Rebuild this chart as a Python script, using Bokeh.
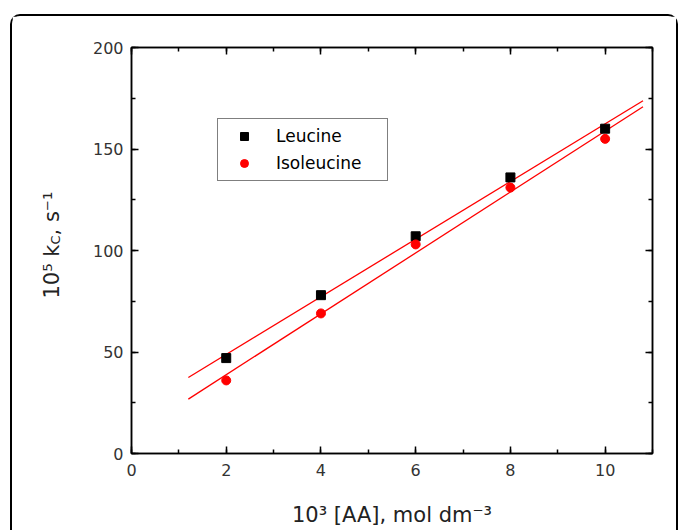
import numpy as np
from bokeh.plotting import figure
from bokeh.models import (LinearAxis, Label, Legend, LegendItem, Range1d,
                          SingleIntervalTicker, CustomJSTickFormatter)
from bokeh.embed import file_html
from bokeh.resources import INLINE

# ---- data ----
conc = [2, 4, 6, 8, 10]                 # 10^3 [AA], mol dm^-3
leucine = [47, 78, 107, 136, 160]       # 10^5 k_C, s^-1
isoleucine = [36, 69, 103, 131, 155]
series_names = ["Leucine", "Isoleucine"]
x_title = "10³ [AA], mol dm⁻³"
y_title_pieces = ["10⁵ k", "C", ", s⁻¹"]
x_tick_step = 2
y_tick_step = 50
x_limits = (0, 11)
y_limits = (0, 200)
fit_span = (1.2, 10.8)

FONT = "DejaVu Sans"
W, H = 668, 516
FL, FR, FT, FB = 119, 640, 31, 437          # frame edges inside the canvas
# reference page coordinates of the frame (for placing the text pieces)
RL, RR, RT, RB = 131, 652, 47, 453


def px2x(px):
    return x_limits[0] + (px - RL) / (RR - RL) * (x_limits[1] - x_limits[0])


def py2y(py):
    return y_limits[0] + (RB - py) / (RB - RT) * (y_limits[1] - y_limits[0])


p = figure(width=W, height=H, x_range=Range1d(*x_limits), y_range=Range1d(*y_limits),
           output_backend="svg", toolbar_location=None,
           min_border_left=FL, min_border_right=W - FR,
           min_border_top=FT, min_border_bottom=H - FB)
p.styles = {"border-top": "2px solid black", "border-left": "2px solid black",
            "border-right": "2px solid black", "border-top-left-radius": "10px",
            "border-top-right-radius": "10px", "margin-left": "10px", "margin-top": "14px"}
p.grid.visible = False
p.outline_line_color = "black"
p.outline_line_width = 1.5
p.background_fill_color = "white"
p.border_fill_color = "white"

xt = SingleIntervalTicker(interval=x_tick_step, num_minor_ticks=2)
yt = SingleIntervalTicker(interval=y_tick_step, num_minor_ticks=2)


def style_axis(ax, labels=True):
    ax.axis_line_color = "black"
    ax.axis_line_width = 1.5
    ax.major_tick_in = 7
    ax.major_tick_out = 0
    ax.minor_tick_in = 4
    ax.minor_tick_out = 0
    ax.major_tick_line_width = 1.5
    ax.minor_tick_line_width = 1.5
    ax.major_tick_line_color = "black"
    ax.minor_tick_line_color = "black"
    if labels:
        ax.major_label_text_font = FONT
        ax.major_label_text_font_size = "16px"
        ax.major_label_text_color = "#333333"
    else:
        ax.formatter = CustomJSTickFormatter(code="return ''")
        ax.major_label_text_font_size = "1px"
        ax.major_label_standoff = 0


p.xaxis.ticker = xt
p.yaxis.ticker = yt
style_axis(p.xaxis[0])
style_axis(p.yaxis[0])
p.xaxis.major_label_standoff = 10
p.yaxis.major_label_standoff = 8

p.xaxis.axis_label = x_title
p.xaxis.axis_label_text_font = FONT
p.xaxis.axis_label_text_font_size = "21px"
p.xaxis.axis_label_text_font_style = "normal"
p.xaxis.axis_label_text_color = "#222222"
p.xaxis.axis_label_standoff = 24

top = LinearAxis(ticker=xt)
right = LinearAxis(ticker=yt)
style_axis(top, labels=False)
style_axis(right, labels=False)
p.add_layout(top, "above")
p.add_layout(right, "right")

# fit lines (least squares from the data)
xs_fit = np.array(fit_span)
for ys in (leucine, isoleucine):
    m, b = np.polyfit(conc, ys, 1)
    p.line(xs_fit, m * xs_fit + b, line_color="red", line_width=1.3)

r1 = p.scatter(conc, leucine, marker="square", size=9, fill_color="black", line_color="black")
r2 = p.scatter(conc, isoleucine, marker="circle", size=9, fill_color="red", line_color="red")

legend = Legend(items=[LegendItem(label=series_names[0], renderers=[r1]),
                       LegendItem(label=series_names[1], renderers=[r2])],
                location=(86, 272), orientation="vertical",
                padding=7, margin=0, spacing=7,
                glyph_width=38, glyph_height=20, label_height=20, label_width=104,
                label_standoff=13,
                label_text_font=FONT, label_text_font_size="17px",
                label_text_color="black",
                border_line_color="black", border_line_width=1.5,
                background_fill_color="white", background_fill_alpha=1.0)
p.add_layout(legend)

# ---- y title: rotated pieces placed in the left panel (subscript C) ----
EM = {"1": .636, "0": .636, "⁵": .401, "⁻": .401, "¹": .401, " ": .318, "k": .579,
      "C": .698, ",": .318, "s": .521}
BIG, SMALL = 21, 13
sizes = [BIG, SMALL, BIG]
offsets = [0, 3, 0]


def text_width(t, size):
    return sum(EM.get(c, .6) for c in t) * size


ypos = 298.0
base_x = 51.5
for t, sz, off in zip(y_title_pieces, sizes, offsets):
    p.add_layout(Label(x=px2x(base_x + off), y=py2y(ypos), text=t, angle=np.pi / 2,
                       text_font=FONT, text_font_size=f"{sz}px", text_color="#222222",
                       text_align="left", text_baseline="alphabetic"), "left")
    ypos -= text_width(t, sz)

open("out.html", "w").write(file_html(p, INLINE))
